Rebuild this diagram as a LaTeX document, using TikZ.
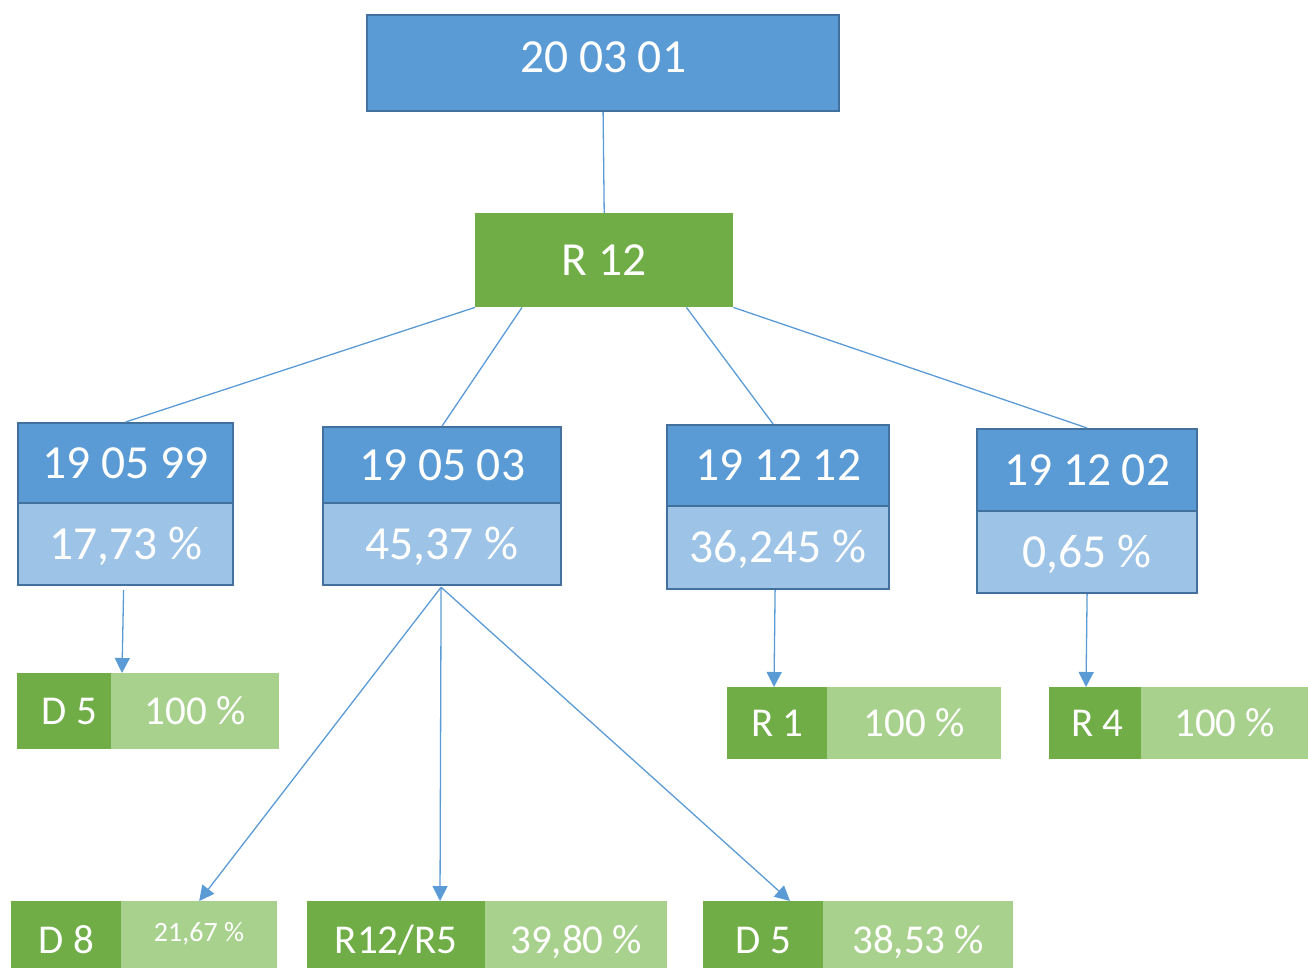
\documentclass[tikz,border=0pt]{standalone}
\usepackage{fontspec}
\setmainfont{Carlito}
\usetikzlibrary{arrows.meta,calc}
\definecolor{cblue}{HTML}{5B9BD5}
\definecolor{clblue}{HTML}{9DC3E6}
\definecolor{cborder}{HTML}{41719C}
\definecolor{cgreen}{HTML}{70AD47}
\definecolor{clgreen}{HTML}{A9D18E}
\begin{document}
\begin{tikzpicture}[x=1pt,y=-1pt,
  base/.style={anchor=north west,inner sep=0pt,text=white,text height=30pt,text depth=0pt},
  bigfont/.style={font=\fontsize{47.5}{52}\selectfont},
  midfont/.style={font=\fontsize{41}{45}\selectfont,text height=26pt},
  bluebox/.style={base,bigfont,draw=cborder,line width=2.2pt,fill=cblue},
  lbluebox/.style={base,bigfont,draw=cborder,line width=2.2pt,fill=clblue},
  greenbox/.style={base,bigfont,fill=cgreen},
  dgbox/.style={base,midfont,fill=cgreen},
  lgbox/.style={base,midfont,fill=clgreen},
  conn/.style={draw=cblue,line width=1.3pt},
  arr/.style={conn,-{Triangle[length=15pt,width=15pt]}}
]
\useasboundingbox (0,0) rectangle (1308,967);
\clip (0,0) rectangle (1308,967);

% top
\node[bluebox,minimum width=472,minimum height=96,text depth=12pt] (top) at (366,14) {20 03 01};
\node[greenbox,minimum width=258,minimum height=94] (r12) at (475,213) {R 12};

% second level
\node[lbluebox,minimum width=215,minimum height=82] (a2) at (17,502) {17,73 \%};
\node[bluebox,minimum width=215,minimum height=80] (a1) at (17,422) {19 05 99};
\node[lbluebox,minimum width=238,minimum height=82] (b2) at (322,502) {45,37 \%};
\node[bluebox,minimum width=238,minimum height=76] (b1) at (322,426) {19 05 03};
\node[lbluebox,minimum width=222,minimum height=83] (c2) at (666,505) {36,245 \%};
\node[bluebox,minimum width=222,minimum height=81] (c1) at (666,424) {19 12 12};
\node[lbluebox,minimum width=220,minimum height=82] (d2) at (976,510) {0,65 \%};
\node[bluebox,minimum width=220,minimum height=82] (d1) at (976,428) {19 12 02};

% result boxes
\node[dgbox,minimum width=94,minimum height=76,xshift=0pt] (a3) at (17,673) {\hspace{10pt}D 5};
\node[lgbox,minimum width=168,minimum height=76] (a4) at (111,673) {100 \%};
\node[dgbox,minimum width=100,minimum height=72] (c3) at (727,687) {R 1};
\node[lgbox,minimum width=174,minimum height=72] (c4) at (827,687) {100 \%};
\node[dgbox,minimum width=92,minimum height=72] (d3) at (1049,687) {\hspace{4pt}R 4};
\node[lgbox,minimum width=167,minimum height=72] (d4) at (1141,687) {100 \%};

\node[dgbox,minimum width=110,minimum height=78] (e3) at (11,901) {D 8};
\node[lgbox,minimum width=156,minimum height=78] (e4) at (121,901) {};
\node[text=white,inner sep=0pt,font=\fontsize{28}{30}\selectfont,text height=19pt,text depth=0pt] (e5) at (199,932) {21,67 \%};
\node[dgbox,minimum width=178,minimum height=78] (f3) at (307,901) {R12/R5};
\node[lgbox,minimum width=182,minimum height=78] (f4) at (485,901) {39,80 \%};
\node[dgbox,minimum width=120,minimum height=78] (g3) at (703,901) {D 5};
\node[lgbox,minimum width=190,minimum height=78] (g4) at (823,901) {38,53 \%};

% connectors
\draw[conn] (top.south) -- (r12.north);
\draw[conn] (r12.south west) -- (a1.north);
\draw[conn] ($(r12.south west)+(47,0)$) -- (b1.north);
\draw[conn] ($(r12.south east)+(-47,0)$) -- ($(c1.north)+(-5,0)$);
\draw[conn] (r12.south east) -- (d1.north);

\draw[arr] ($(a2.south)+(-2,4)$) -- ($(a3.north west)+(105,0)$);
\draw[arr] ($(c2.south)+(-3,0)$) -- ($(c3.north west)+(47,0)$);
\draw[arr] (d2.south) -- ($(d3.north west)+(37,0)$);

\coordinate (bs) at ($(b2.south)+(-1,1)$);
\draw[arr] (bs) -- (e4.north);
\draw[arr] (bs) -- ($(f3.north west)+(133,0)$);
\draw[arr] (bs) -- ($(g3.north west)+(87,0)$);
\end{tikzpicture}
\end{document}
